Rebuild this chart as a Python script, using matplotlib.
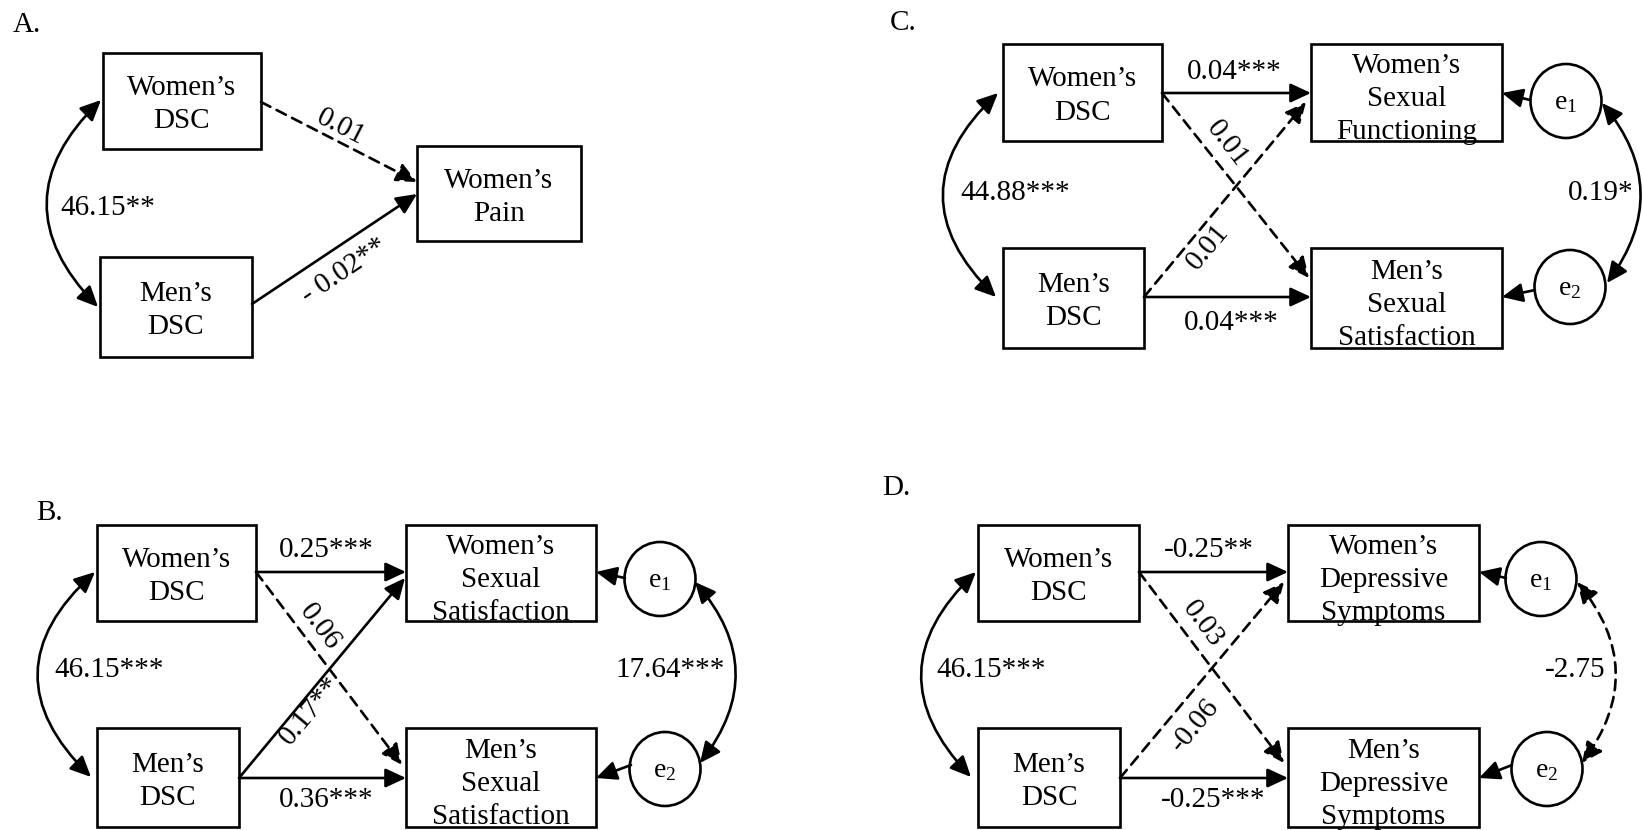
import matplotlib
matplotlib.use("Agg")
import matplotlib.pyplot as plt
from matplotlib.patches import Rectangle, Ellipse, FancyArrowPatch, ArrowStyle

plt.rcParams['font.family'] = ['Liberation Serif', 'DejaVu Serif']

# Data: node labels and path estimates for the four models
panel_titles = ['A.', 'B.', 'C.', 'D.']

a_nodes = ["Women’s\nDSC", "Men’s\nDSC", "Women’s\nPain"]
a_paths = ["0.01", "- 0.02**"]
a_dashed = [True, False]
a_cov = ["46.15**"]

# paths order: W->W, W->M, M->W, M->M
b_nodes = ["Women’s\nDSC", "Men’s\nDSC", "Women’s\nSexual\nSatisfaction", "Men’s\nSexual\nSatisfaction"]
b_paths = ["0.25***", "0.06", "0.17**", "0.36***"]
b_dashed = [False, True, False, False]
b_cov = ["46.15***", "17.64***"]
b_cov_dashed = [False, False]

c_nodes = ["Women’s\nDSC", "Men’s\nDSC", "Women’s\nSexual\nFunctioning", "Men’s\nSexual\nSatisfaction"]
c_paths = ["0.04***", "0.01", "0.01", "0.04***"]
c_dashed = [False, True, True, False]
c_cov = ["44.88***", "0.19*"]
c_cov_dashed = [False, False]

d_nodes = ["Women’s\nDSC", "Men’s\nDSC", "Women’s\nDepressive\nSymptoms", "Men’s\nDepressive\nSymptoms"]
d_paths = ["-0.25**", "0.03", "-0.06", "-0.25***"]
d_dashed = [False, True, True, False]
d_cov = ["46.15***", "-2.75"]
d_cov_dashed = [False, True]

error_labels = [r'$\mathregular{e_1}$', r'$\mathregular{e_2}$']

FS = 21
LW = 1.9
DASH = (0, (4, 2.6))

fig = plt.figure(figsize=(16.43, 8.30), dpi=100)
ax = fig.add_axes([0, 0, 1, 1])
ax.set_xlim(0, 1643)
ax.set_ylim(830, 0)
ax.axis('off')


def box(x0, y0, x1, y1, label):
    r = Rectangle((x0, y0), x1 - x0, y1 - y0, fill=False, lw=LW, ec='black', zorder=3)
    ax.add_patch(r)
    lines = label.split('\n')
    n = len(lines)
    c0 = 10.5 if n == 2 else 13.5
    cx, cy = (x0 + x1) / 2, (y0 + y1) / 2
    for i, ln in enumerate(lines):
        t = ax.text(cx, cy + c0 + 33 * (i - (n - 1) / 2), ln, ha='center', va='baseline',
                    fontsize=FS, zorder=2)
        t.set_clip_path(r)


def arrow(p0, p1, dashed=False, rad=0.0, both=False):
    style = ArrowStyle('<|-|>' if both else '-|>', head_length=1.25, head_width=0.58)
    a = FancyArrowPatch(p0, p1, arrowstyle=style, mutation_scale=10, lw=LW, color='black',
                        shrinkA=0, shrinkB=0, connectionstyle=f'arc3,rad={rad}',
                        linestyle=DASH if dashed else '-', zorder=4)
    ax.add_patch(a)


def label(x, y, s, rot=0):
    ax.text(x, y, s, ha='center', va='center', fontsize=FS, rotation=rot,
            rotation_mode='anchor', zorder=5)


def error(cx, cy, s):
    ax.add_patch(Ellipse((cx, cy), 71, 74, fill=False, lw=LW, ec='black', zorder=3))
    ax.text(cx, cy + 2, s, ha='center', va='center', fontsize=20)


# ---- Panel A ----
ax.text(13, 32, panel_titles[0], fontsize=FS, va='baseline')
box(103, 53, 261, 149, a_nodes[0])
box(100, 257, 252, 357, a_nodes[1])
box(417, 146, 581, 241, a_nodes[2])
arrow((261, 102), (417, 182), a_dashed[0])
arrow((252, 304), (417, 194), a_dashed[1])
label(341, 127, a_paths[0], -27)
label(344, 271, a_paths[1], 34)
arrow((101, 100), (98, 307), rad=0.5, both=True)
label(108, 208, a_cov[0])

# ---- Panel B ----
ax.text(36, 520, panel_titles[1], fontsize=FS, va='baseline')
box(97, 525, 256, 621, b_nodes[0])
box(97, 728, 239, 827, b_nodes[1])
box(406, 525, 596, 621, b_nodes[2])
box(406, 728, 596, 827, b_nodes[3])
arrow((256, 572), (406, 572), b_dashed[0])
arrow((256, 572), (402, 765), b_dashed[1])
arrow((239, 778), (405, 578), b_dashed[2])
arrow((239, 778), (406, 778), b_dashed[3])
label(326, 550, b_paths[0])
label(320, 627, b_paths[1], -53)
label(310, 711, b_paths[2], 50)
label(326, 800, b_paths[3])
error(660, 579, error_labels[0])
error(665, 769, error_labels[1])
arrow((625, 578), (596, 572))
arrow((631, 765), (596, 778))
arrow((95, 572), (91, 777), b_cov_dashed[0], rad=0.53, both=True)
arrow((695, 582), (700, 763), b_cov_dashed[1], rad=-0.41, both=True)
label(109, 670, b_cov[0])
label(670, 670, b_cov[1])

# ---- Panel C ----
ax.text(890, 30, panel_titles[2], fontsize=FS, va='baseline')
box(1003, 44, 1162, 141, c_nodes[0])
box(1003, 248, 1144, 348, c_nodes[1])
box(1311, 44, 1502, 141, c_nodes[2])
box(1311, 248, 1502, 348, c_nodes[3])
arrow((1162, 93), (1311, 93), c_dashed[0])
arrow((1162, 93), (1309, 278), c_dashed[1])
arrow((1144, 297), (1306, 102), c_dashed[2])
arrow((1144, 297), (1311, 297), c_dashed[3])
label(1234, 72, c_paths[0])
label(1227, 144, c_paths[1], -52)
label(1208, 247, c_paths[2], 50)
label(1231, 323, c_paths[3])
error(1566, 101, error_labels[0])
error(1570, 287, error_labels[1])
arrow((1530, 100), (1502, 93))
arrow((1535, 290), (1502, 297))
arrow((998, 93), (996, 297), c_cov_dashed[0], rad=0.52, both=True)
arrow((1602, 103), (1607, 283), c_cov_dashed[1], rad=-0.39, both=True)
label(1015, 193, c_cov[0])
label(1601, 193, c_cov[1])

# ---- Panel D ----
ax.text(882, 495, panel_titles[3], fontsize=FS, va='baseline')
box(978, 525, 1139, 621, d_nodes[0])
box(978, 728, 1120, 827, d_nodes[1])
box(1288, 525, 1479, 621, d_nodes[2])
box(1288, 728, 1479, 827, d_nodes[3])
arrow((1139, 572), (1288, 572), d_dashed[0])
arrow((1139, 572), (1284, 763), d_dashed[1])
arrow((1120, 778), (1284, 582), d_dashed[2])
arrow((1120, 778), (1288, 778), d_dashed[3])
label(1209, 550, d_paths[0])
label(1203, 624, d_paths[1], -53)
label(1195, 725, d_paths[2], 50)
label(1213, 800, d_paths[3])
error(1541, 579, error_labels[0])
error(1547, 769, error_labels[1])
arrow((1506, 578), (1479, 572))
arrow((1512, 765), (1479, 778))
arrow((976, 572), (971, 777), d_cov_dashed[0], rad=0.5, both=True)
arrow((1577, 582), (1582, 763), d_cov_dashed[1], rad=-0.39, both=True)
label(991, 670, d_cov[0])
label(1575, 670, d_cov[1])

fig.savefig('out.png', dpi=100)
